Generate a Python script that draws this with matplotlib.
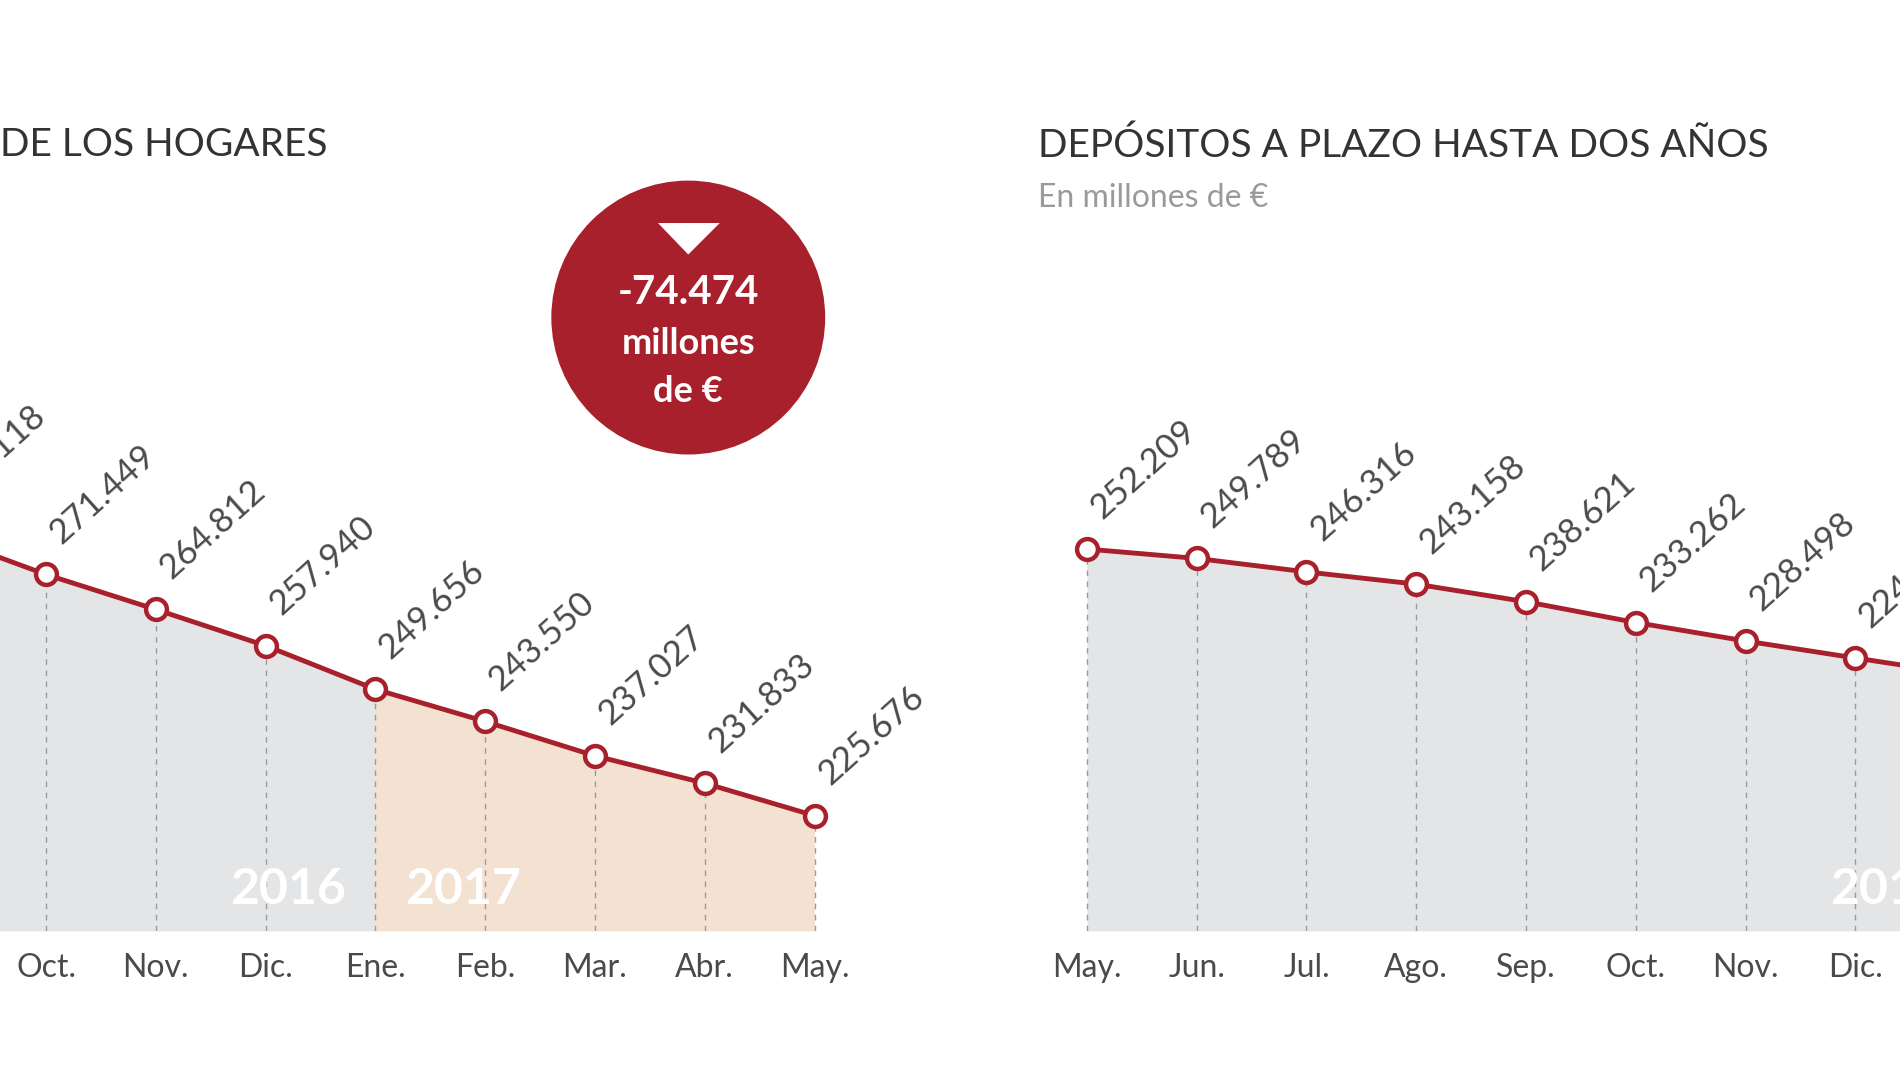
import matplotlib
matplotlib.use("Agg")
import matplotlib.pyplot as plt
from matplotlib.patches import Circle, Polygon

plt.rcParams["font.family"] = "Lato"

left_months = ["Sep.", "Oct.", "Nov.", "Dic.", "Ene.", "Feb.", "Mar.", "Abr.", "May."]
left_values = [279.118, 271.449, 264.812, 257.940, 249.656, 243.550, 237.027, 231.833, 225.676]
left_labels = ["279.118", "271.449", "264.812", "257.940", "249.656", "243.550", "237.027", "231.833", "225.676"]

right_months = ["May.", "Jun.", "Jul.", "Ago.", "Sep.", "Oct.", "Nov.", "Dic.", "Ene."]
right_values = [252.209, 249.789, 246.316, 243.158, 238.621, 233.262, 228.498, 224.120, 219.800]
right_labels = ["252.209", "249.789", "246.316", "243.158", "238.621", "233.262", "228.498", "224.120", "219.800"]

W, H = 1568.0, 882.0
RED = "#a8202b"
GRAY_FILL = "#e4e5e7"
TAN_FILL = "#f3e1d2"
TXT = "#4a4a4a"

fig = plt.figure(figsize=(19.0, 10.69), dpi=100)
fig.patch.set_facecolor("white")

def make_axes(px_left, px_right, idx0_px, step, vref, vref_px, ppu, base_px=768):
    ax = fig.add_axes([px_left / W, 1 - base_px / H, (px_right - px_left) / W, base_px / H])
    ax.set_xlim((px_left - idx0_px) / step, (px_right - idx0_px) / step)
    vbot = vref - (base_px - vref_px) / ppu
    vtop = vref + vref_px / ppu
    ax.set_ylim(vbot, vtop)
    ax.axis("off")
    return ax, vbot

def draw(ax, vbot, months, values, labels, tan_from=None, years=()):
    xs = list(range(len(values)))
    if tan_from is None:
        ax.fill_between(xs, values, vbot, color=GRAY_FILL, lw=0, zorder=1)
    else:
        ax.fill_between(xs[:tan_from + 1], values[:tan_from + 1], vbot, color=GRAY_FILL, lw=0, zorder=1)
        ax.fill_between(xs[tan_from:], values[tan_from:], vbot, color=TAN_FILL, lw=0, zorder=1)
    for x, v in zip(xs, values):
        ax.plot([x, x], [vbot, v], color="#9a9a9a", lw=1, ls=(0, (4, 4)), zorder=2)
    ax.plot(xs, values, color=RED, lw=3.5, zorder=3)
    ax.plot(xs, values, "o", ms=15, mfc="white", mec=RED, mew=3.2, zorder=4)
    for x, v, lab in zip(xs, values, labels):
        ax.annotate(lab, (x, v), xytext=(14, 18), textcoords="offset points",
                    rotation=42, rotation_mode="anchor", ha="left", va="bottom",
                    fontsize=25, color=TXT, zorder=5, annotation_clip=False)
    for x, m in zip(xs, months):
        ax.annotate(m, (x, vbot), xytext=(0, -27), textcoords="offset points",
                    ha="center", va="center", fontsize=23, color=TXT, annotation_clip=False)
    for x, yr in years:
        ax.annotate(yr, (x, vbot), xytext=(0, 30), textcoords="offset points",
                    ha="center", va="center", fontsize=36, fontweight="bold", color="white",
                    zorder=5, annotation_clip=False)

axL, vbL = make_axes(0, 760, -52.6, 90.6, 271.449, 474, 4.347)
draw(axL, vbL, left_months, left_values, left_labels, tan_from=4,
     years=[(3.2, "2016"), (4.8, "2017")])
axR, vbR = make_axes(840, W, 897, 90.6, 252.209, 453, 3.2)
draw(axR, vbR, right_months, right_values, right_labels,
     years=[(7.3, "2016")])

# titles
fig.text(0 / W, 1 - 120 / H, "DE LOS HOGARES", fontsize=28, color="#333333", va="center", ha="left")
fig.text(857 / W, 1 - 120 / H, "DEPÓSITOS A PLAZO HASTA DOS AÑOS", fontsize=28, color="#333333", va="center", ha="left")
fig.text(857 / W, 1 - 163 / H, "En millones de €", fontsize=23, color="#9a9a9a", va="center", ha="left")

# red badge
ov = fig.add_axes([0, 0, 1, 1])
ov.set_xlim(0, W); ov.set_ylim(H, 0); ov.axis("off")
ov.set_aspect("equal", adjustable="datalim")
ov.add_patch(Circle((568, 262), 113, color=RED, lw=0))
ov.add_patch(Polygon([[543, 184], [594, 184], [568, 210]], closed=True, color="white", lw=0))
ov.text(568, 241, "-74.474", color="white", fontsize=29, fontweight="bold", ha="center", va="center")
ov.text(568, 283, "millones", color="white", fontsize=26, fontweight="bold", ha="center", va="center")
ov.text(568, 323, "de €", color="white", fontsize=26, fontweight="bold", ha="center", va="center")

fig.savefig("out.png", dpi=100, facecolor="white")
